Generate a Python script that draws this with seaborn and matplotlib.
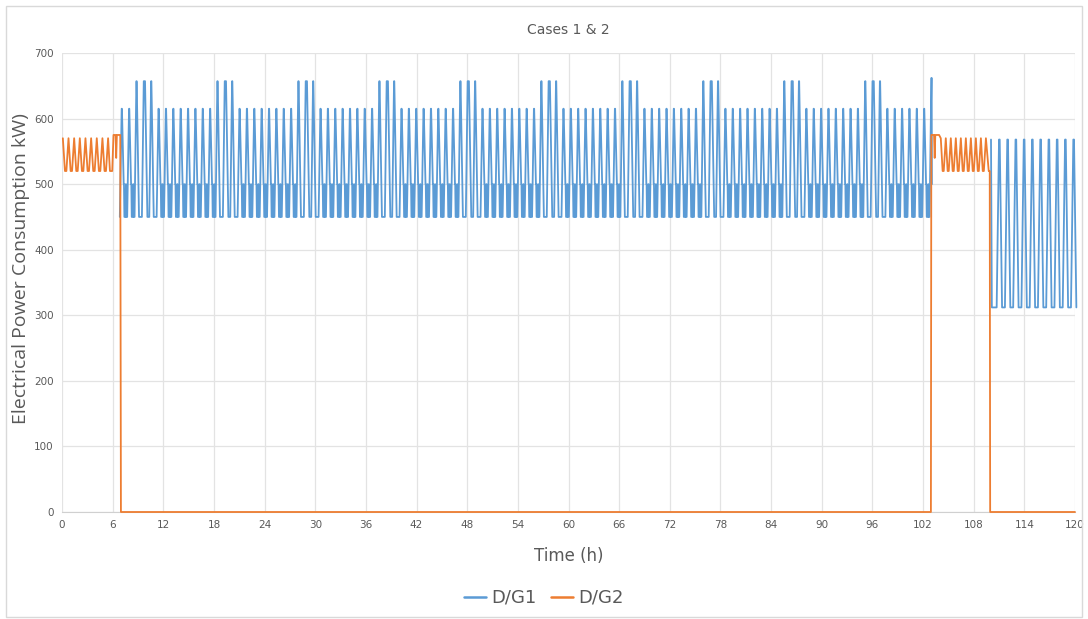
import numpy as np
import pandas as pd
import matplotlib.pyplot as plt
import seaborn as sns
from matplotlib.patches import Rectangle
from matplotlib.lines import Line2D

# ==========================================
# DATA
# ==========================================

hour_ticks = list(range(0, 121, 6))
kw_ticks = list(range(0, 701, 100))

# D/G1, first run: one pulse every ~0.87 h starting at 7.07 h
dg1_run1_start = 7.07
dg1_run1_period = 0.872
dg1_run1_low = 450
dg1_run1_peaks = [
    615, 615,
    657, 657, 657, 615, 615, 615, 615, 615, 615, 615, 615,
    657, 657, 657, 615, 615, 615, 615, 615, 615, 615, 615,
    657, 657, 657, 615, 615, 615, 615, 615, 615, 615, 615,
    657, 657, 657, 615, 615, 615, 615, 615, 615, 615, 615,
    657, 657, 657, 615, 615, 615, 615, 615, 615, 615, 615,
    657, 657, 657, 615, 615, 615, 615, 615, 615, 615, 615,
    657, 657, 657, 615, 615, 615, 615, 615, 615, 615, 615,
    657, 657, 657, 615, 615, 615, 615, 615, 615, 615, 615,
    657, 657, 657, 615, 615, 615, 615, 615, 615, 615, 615,
    657, 657, 657, 615, 615, 615, 615, 615, 615, 662,
]
dg1_bump = 500          # short steps up to 500 kW in the troughs
dg1_run1_end = (103.05, 500)

# D/G1, second run: one pulse every ~0.98 h from 111.0 h
dg1_run2_start = 111.0
dg1_run2_period = 0.978
dg1_run2_low = 312
dg1_run2_peaks = [568, 568, 568, 568, 568, 568, 568, 568, 568, 568]
dg1_run2_first = (110.05, 568)

# D/G2, first run (0 - 7 h)
dg2_run1_start = 0.1
dg2_run1_period = 0.67
dg2_run1_low = 520
dg2_run1_peaks = [570, 570, 570, 570, 570, 570, 570, 570, 570]
dg2_run1_tail_t = [5.68, 5.95, 6.10, 6.35, 6.42, 6.50, 6.90, 6.98]
dg2_run1_tail_v = [520, 520, 575, 575, 540, 575, 575, 0]

# D/G2 switched off
dg2_off_t = [102.93]
dg2_off_v = [0]

# D/G2, second run (103 - 110 h)
dg2_run2_head_t = [102.98, 103.30, 103.38, 103.45, 103.90]
dg2_run2_head_v = [575, 575, 540, 575, 575]
dg2_run2_start = 104.1
dg2_run2_period = 0.594
dg2_run2_low = 520
dg2_run2_peaks = [570, 570, 570, 570, 570, 570, 570, 570, 570, 570]
dg2_run2_tail_t = [109.78, 109.90, 109.95, 120.0]
dg2_run2_tail_v = [520, 520, 0, 0]


# ==========================================
# BUILD LINE SERIES
# ==========================================

def d1_pulses(start, period, peaks, low, bump):
    t, v = [], []
    for k, p in enumerate(peaks):
        t0 = start + k * period
        wide = 0 < k < len(peaks) - 1 and p == peaks[k - 1] == peaks[k + 1] == 657
        top = 0.15 if wide else 0.03
        t += [t0 - 0.22, t0, t0 + top]
        v += [low, p, p]
        if k == len(peaks) - 1:
            break
        if p == 657:
            t += [t0 + top + 0.28]
            v += [low]
        else:
            # falls with a short shoulder at 500, then a small spike in the trough
            t += [t0 + 0.24, t0 + 0.27, t0 + 0.32,
                  t0 + 0.45, t0 + 0.50, t0 + 0.55]
            v += [bump, bump, low, low, bump, low]
    return t, v


def zigzag(start, period, peaks, low, fall, hold):
    t, v = [], []
    for k, p in enumerate(peaks):
        t0 = start + k * period
        t += [t0, t0 + fall, t0 + fall + hold]
        v += [p, low, low]
    return t, v


t1, v1 = d1_pulses(dg1_run1_start, dg1_run1_period, dg1_run1_peaks,
                   dg1_run1_low, dg1_bump)
t1 = [6.85] + t1 + [dg1_run1_end[0]]
v1 = [dg1_run1_low] + v1 + [dg1_run1_end[1]]

t2, v2 = [dg1_run2_first[0], dg1_run2_first[0] + 0.1], [dg1_run2_first[1], dg1_run2_low]
for k, p in enumerate(dg1_run2_peaks):
    t0 = dg1_run2_start + k * dg1_run2_period
    t2 += [t0 - 0.28, t0, t0 + 0.08, t0 + 0.36]
    v2 += [dg1_run2_low, p, p, dg1_run2_low]

ta, va = zigzag(dg2_run1_start, dg2_run1_period, dg2_run1_peaks,
                dg2_run1_low, 0.25, 0.17)
tb, vb = zigzag(dg2_run2_start, dg2_run2_period, dg2_run2_peaks,
                dg2_run2_low, 0.22, 0.13)
t3 = ta[:-2] + dg2_run1_tail_t + dg2_off_t + dg2_run2_head_t + tb[:-2] + dg2_run2_tail_t
v3 = va[:-2] + dg2_run1_tail_v + dg2_off_v + dg2_run2_head_v + vb[:-2] + dg2_run2_tail_v

df = pd.concat([
    pd.DataFrame({"t": t1, "kW": v1, "unit": "D/G1", "seg": "a"}),
    pd.DataFrame({"t": t2, "kW": v2, "unit": "D/G1", "seg": "b"}),
    pd.DataFrame({"t": t3, "kW": v3, "unit": "D/G2", "seg": "c"}),
])

# ==========================================
# PLOT
# ==========================================

sns.set_style("white")
plt.rcParams["font.family"] = ["Liberation Sans Narrow", "DejaVu Sans"]

blue = "#5B9BD5"
orange = "#ED7D31"
grey = "#595959"

fig = plt.figure(figsize=(10.88, 6.19), dpi=100)
ax = fig.add_axes([62 / 1088, 1 - 512 / 619, (1075 - 62) / 1088, (512 - 53) / 619])

sns.lineplot(
    data=df, x="t", y="kW", hue="unit", units="seg",
    estimator=None, sort=False,
    palette={"D/G1": blue, "D/G2": orange},
    linewidth=1.3, legend=False, ax=ax
)
for ln in ax.lines:
    ln.set_clip_on(False)
    ln.set_zorder(4)

ax.set_xlim(0, 120)
ax.set_ylim(0, 700)
ax.set_xticks(hour_ticks)
ax.set_yticks(kw_ticks)
ax.tick_params(axis="both", length=0, labelsize=7.5, labelcolor=grey, pad=6)
ax.grid(True, color="#e3e3e3", linewidth=0.9)
ax.set_axisbelow(True)
for s in ["top", "right", "left"]:
    ax.spines[s].set_visible(False)
ax.spines["bottom"].set_color("#d0d0d0")
ax.spines["bottom"].set_zorder(1)

ax.set_xlabel("Time (h)", fontsize=12, color=grey, labelpad=12)
ax.set_ylabel("Electrical Power Consumption kW)", fontsize=14, color=grey,
              family=["Open Sans", "DejaVu Sans"])
ax.yaxis.set_label_coords(-0.032, 0.53)
ax.set_title("Cases 1 & 2", fontsize=10, color=grey, pad=14)

handles = [Line2D([], [], color=blue, lw=1.8), Line2D([], [], color=orange, lw=1.8)]
fig.legend(handles, ["D/G1", "D/G2"], loc="center", bbox_to_anchor=(0.5, 1 - 598 / 619),
           ncol=2, frameon=False, fontsize=13, labelcolor=grey,
           handlelength=1.2, handletextpad=0.3, columnspacing=0.8)

fig.add_artist(Rectangle((6 / 1088, 2 / 619), 1076 / 1088, 611 / 619,
                         transform=fig.transFigure, fill=False,
                         edgecolor="#d9d9d9", linewidth=1))

fig.savefig("out.png", dpi=100)
